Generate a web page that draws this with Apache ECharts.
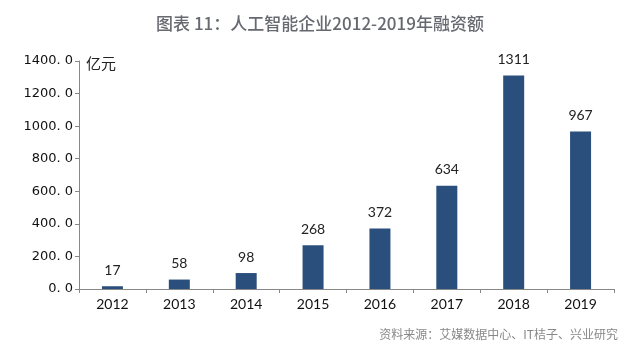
<!DOCTYPE html>
<html><head><meta charset="utf-8">
<script src="https://cdn.jsdelivr.net/npm/echarts@6/dist/echarts.min.js"></script>
<style>html,body{margin:0;padding:0;background:#fff}#c{width:640px;height:360px}</style>
</head><body><div id="c"></div>
<script>
const categories = ['2012','2013','2014','2015','2016','2017','2018','2019'];
const values = [17, 58, 98, 268, 372, 634, 1311, 967];
const yTicks = [0, 200, 400, 600, 800, 1000, 1200, 1400];
const titleText = '图表 11：人工智能企业2012-2019年融资额';
const sourceText = '资料来源：艾媒数据中心、IT桔子、兴业研究';
const unitText = '亿元';

const chart = echarts.init(document.getElementById('c'));
chart.setOption({
  animation: false,
  backgroundColor: '#fff',
  title: {
    text: titleText, left: 'center', top: 10,
    textStyle: {fontFamily: 'Noto Sans CJK SC', fontSize: 17, fontWeight: 500, color: '#666a70'}
  },
  graphic: [
    {type: 'text', left: 86, top: 56, style: {text: unitText, font: '15px "Noto Sans CJK SC"', fill: '#222'}},
    {type: 'text', right: 22, top: 328, style: {text: sourceText, font: '12px "Noto Sans CJK SC"', fill: '#888'}}
  ],
  grid: {left: 79, right: 26, top: 61, bottom: 71},
  xAxis: {
    type: 'category', data: categories,
    axisLine: {lineStyle: {color: '#888'}},
    axisTick: {show: true, alignWithLabel: false, length: 4, lineStyle: {color: '#888'}},
    axisLabel: {color: '#111', fontSize: 14, fontFamily: 'Lato', margin: 8}
  },
  yAxis: {
    type: 'value', min: 0, max: 1400, interval: 200,
    axisLine: {show: true, lineStyle: {color: '#888'}},
    axisTick: {show: true, length: 4, lineStyle: {color: '#888'}},
    splitLine: {show: false},
    axisLabel: {color: '#111', fontSize: 13, fontFamily: 'DejaVu Sans', margin: 6,
      formatter: v => yTicks.includes(v) ? v.toFixed(1).replace('.', '. ') : ''}
  },
  series: [{
    type: 'bar', data: values, barWidth: 21,
    itemStyle: {color: '#2b4f7c'},
    label: {show: true, position: 'top', distance: 9, color: '#222', fontSize: 14, fontFamily: 'Lato'}
  }]
});
</script></body></html>
